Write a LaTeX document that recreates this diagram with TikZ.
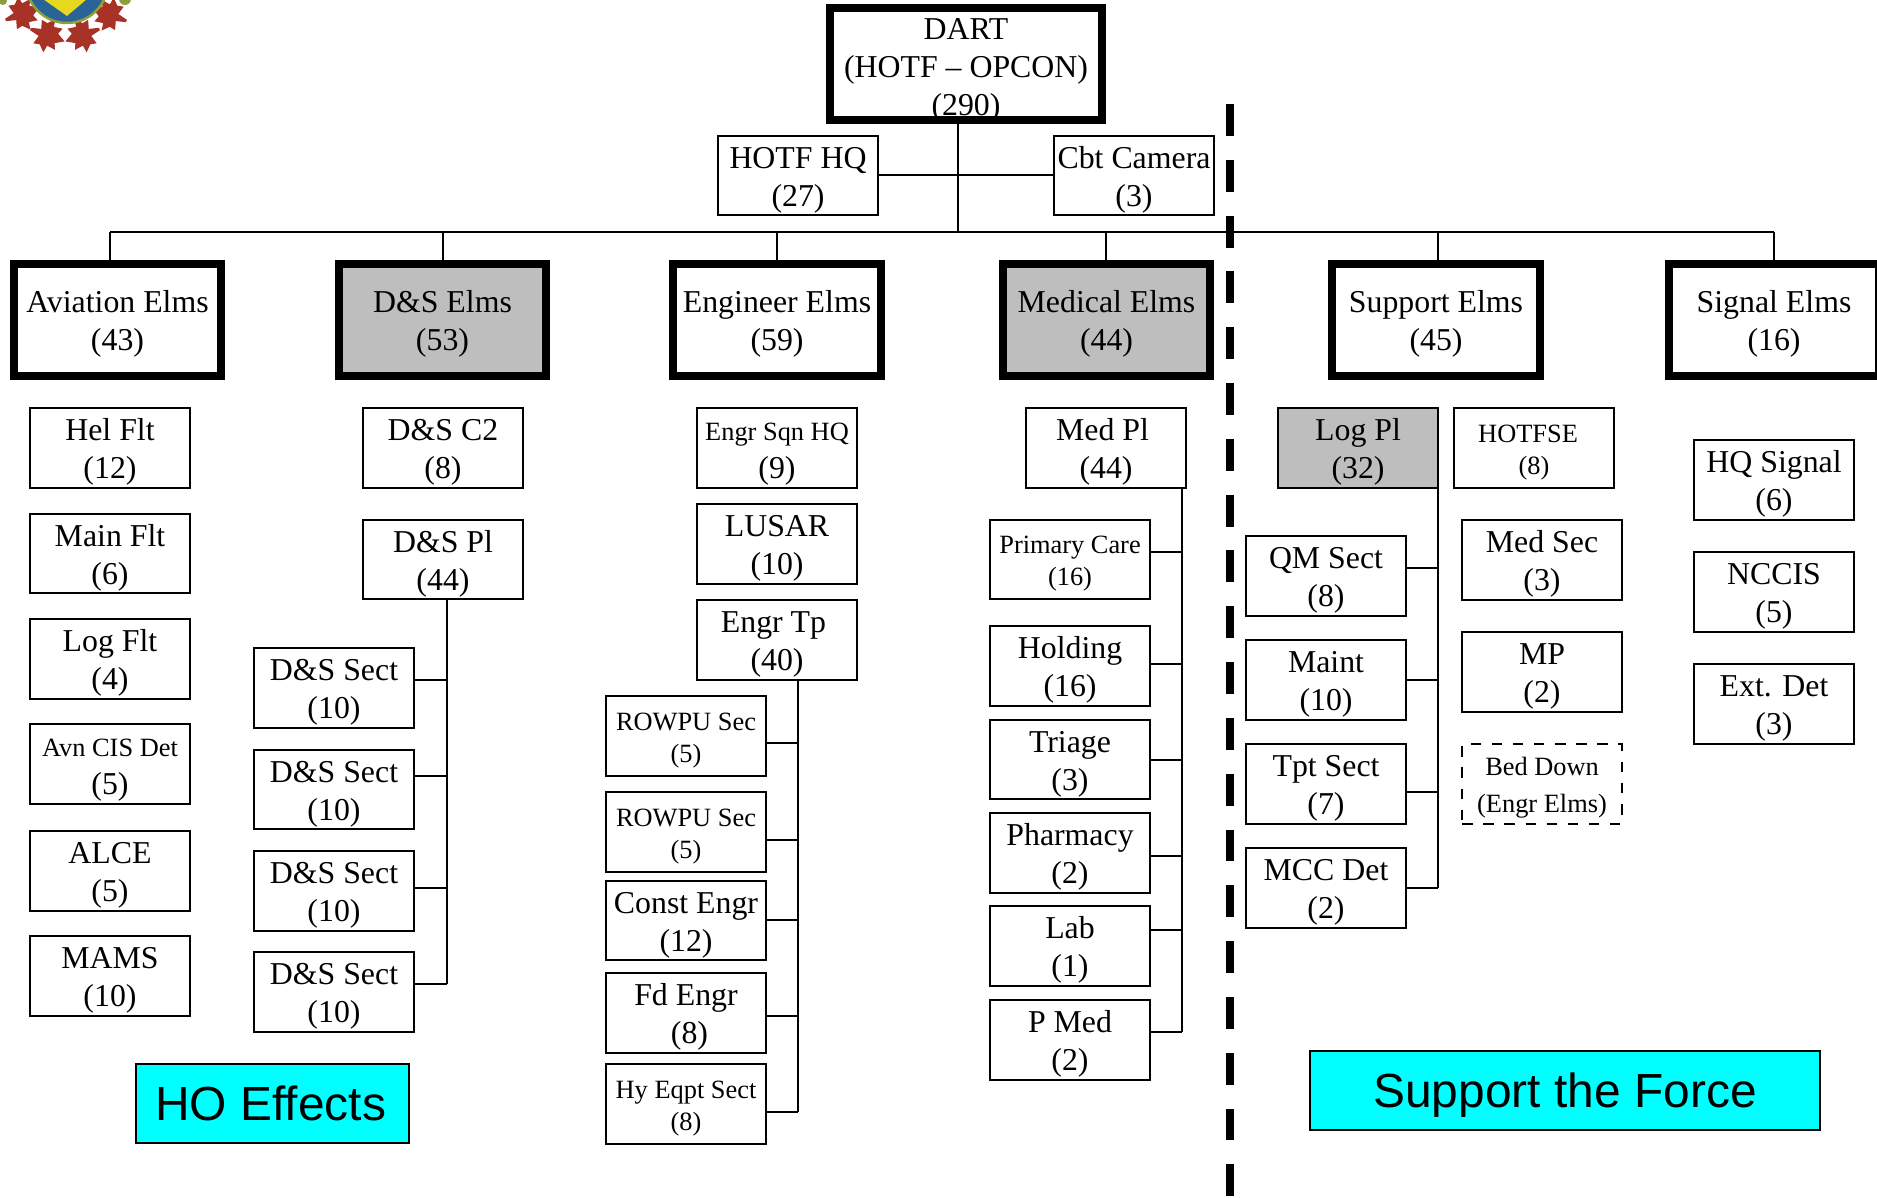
\documentclass[tikz,border=0pt]{standalone}
\usepackage{fontspec}
\setmainfont{Liberation Serif}
\newfontfamily\arialfont{Liberation Sans}
\newcommand{\boxfont}{\fontsize{9.05}{10.8}\selectfont}
\newcommand{\smallfont}{\fontsize{7.5}{9.1}\selectfont}
\definecolor{shade}{HTML}{BEBEBE}
\definecolor{aqua}{HTML}{00FFFF}
\definecolor{leafred}{HTML}{A93226}
\definecolor{badgeblue}{HTML}{2A6496}
\definecolor{badgerim}{HTML}{8E9E3A}
\definecolor{badgeyellow}{HTML}{E6D81E}
\tikzset{
  unit/.style={draw,line width=0.57pt,inner sep=0pt,align=center,font=\boxfont,
    minimum width=1.595cm,minimum height=0.795cm,text depth=0pt,text height=17.6pt},
  smallunit/.style={unit,font=\smallfont,text height=14.9pt},
  elms/.style={unit,line width=2.27pt,minimum width=2.07cm,minimum height=1.12cm},
  banner/.style={draw,line width=0.57pt,fill=aqua,inner sep=0pt,
    font=\arialfont\fontsize{13.62}{16}\selectfont},
  link/.style={line width=0.57pt},
  leaf/.style={fill=leafred}
}
\begin{document}
\begin{tikzpicture}[x=0.01cm,y=-0.01cm]
  \useasboundingbox (0,0) rectangle (1877,1198);

  % Badge in the corner
  \fill[badgerim] (125,-1) circle (6);
  \fill[badgerim] (3,1) circle (4);
  \fill[leaf,shift={(22,14)},rotate=-70,scale=1.25] plot coordinates {
    (0,-15) (4,-8) (9,-10) (8,-3) (14,-2) (9,3) (10,8) (3,6) (1,14)
    (-1,14) (-3,6) (-10,8) (-9,3) (-14,-2) (-8,-3) (-9,-10) (-4,-8)
  };
  \fill[leaf,shift={(110,15)},rotate=70,scale=1.25] plot coordinates {
    (0,-15) (4,-8) (9,-10) (8,-3) (14,-2) (9,3) (10,8) (3,6) (1,14)
    (-1,14) (-3,6) (-10,8) (-9,3) (-14,-2) (-8,-3) (-9,-10) (-4,-8)
  };
  \fill[leaf,shift={(47,35)},rotate=-110,scale=1.25] plot coordinates {
    (0,-15) (4,-8) (9,-10) (8,-3) (14,-2) (9,3) (10,8) (3,6) (1,14)
    (-1,14) (-3,6) (-10,8) (-9,3) (-14,-2) (-8,-3) (-9,-10) (-4,-8)
  };
  \fill[leaf,shift={(83,35)},rotate=110,scale=1.25] plot coordinates {
    (0,-15) (4,-8) (9,-10) (8,-3) (14,-2) (9,3) (10,8) (3,6) (1,14)
    (-1,14) (-3,6) (-10,8) (-9,3) (-14,-2) (-8,-3) (-9,-10) (-4,-8)
  };
  \filldraw[fill=badgeblue,draw=badgerim,line width=0.7pt] (67,-18) circle (41);
  \fill[badgeyellow] (43,-1) -- (87,-1) -- (67,16) -- cycle;

  % Top of the chart
  \node[unit,line width=2.27pt,minimum width=2.72cm,minimum height=1.12cm,text height=29.1pt] (dart) at (966,64)
    {DART\\(HOTF -- OPCON)\\(290)};
  \node[unit] (hotfhq) at (798,175.5) {HOTF HQ\\(27)};
  \node[unit] (cbtcamera) at (1134,175.5) {Cbt Camera\\(3)};

  % Element boxes
  \node[elms] (aviation) at (117.5,320) {Aviation Elms\\(43)};
  \node[elms,fill=shade] (dselms) at (442.5,320) {D\&S Elms\\(53)};
  \node[elms] (engineer) at (777,320) {Engineer Elms\\(59)};
  \node[elms,fill=shade] (medical) at (1106.5,320) {Medical Elms\\(44)};
  \node[elms] (support) at (1436,320) {Support Elms\\(45)};
  \node[elms,minimum width=2.1cm] (signal) at (1774,320) {Signal Elms\\(16)};

  % Bus under the top boxes
  \coordinate (dartdrop) at (958,232);
  \coordinate (avdrop) at (110,232);
  \coordinate (dsdrop) at (443,232);
  \coordinate (engdrop) at (777,232);
  \coordinate (meddrop) at (1106,232);
  \coordinate (supdrop) at (1438,232);
  \coordinate (sigdrop) at (1774,232);
  \draw[link] (avdrop) -- (sigdrop);
  \draw[link] (dartdrop |- dart.south) -- (dartdrop);
  \draw[link] (hotfhq.east) -- (cbtcamera.west);
  \draw[link] (avdrop) -- (avdrop |- aviation.north);
  \draw[link] (dsdrop) -- (dsdrop |- dselms.north);
  \draw[link] (engdrop) -- (engdrop |- engineer.north);
  \draw[link] (meddrop) -- (meddrop |- medical.north);
  \draw[link] (supdrop) -- (supdrop |- support.north);
  \draw[link] (sigdrop) -- (sigdrop |- signal.north);

  % Aviation column
  \node[unit] (helflt) at (110,448) {Hel Flt\\(12)};
  \node[unit] (mainflt) at (110,553.5) {Main Flt\\(6)};
  \node[unit] (logflt) at (110,659) {Log Flt\\(4)};
  \node[unit] (avncis) at (110,764) {{\smallfont Avn CIS Det}\\(5)};
  \node[unit] (alce) at (110,871) {ALCE\\(5)};
  \node[unit] (mams) at (110,976) {MAMS\\(10)};

  % D&S column
  \node[unit] (dscc) at (443,448) {D\&S C2\\(8)};
  \node[unit] (dspl) at (443,559.5) {D\&S Pl\\(44)};
  \node[unit] (dssecta) at (334,688) {D\&S Sect\\(10)};
  \node[unit] (dssectb) at (334,789.5) {D\&S Sect\\(10)};
  \node[unit] (dssectc) at (334,891) {D\&S Sect\\(10)};
  \node[unit] (dssectd) at (334,992) {D\&S Sect\\(10)};
  \coordinate (dsa) at (446.5,680);
  \coordinate (dsb) at (446.5,776);
  \coordinate (dsc) at (446.5,888);
  \coordinate (dsd) at (446.5,984);
  \draw[link] (dsa |- dspl.south) -- (dsd);
  \draw[link] (dsa) -- (dsa -| dssecta.east);
  \draw[link] (dsb) -- (dsb -| dssectb.east);
  \draw[link] (dsc) -- (dsc -| dssectc.east);
  \draw[link] (dsd) -- (dsd -| dssectd.east);

  % Engineer column
  \node[unit] (engrhq) at (777,448) {{\smallfont Engr Sqn HQ}\\(9)};
  \node[unit] (lusar) at (777,544) {LUSAR\\(10)};
  \node[unit] (engrtp) at (777,640) {Engr Tp\hspace*{2pt}\\(40)};
  \node[smallunit] (rowpua) at (686,736) {ROWPU Sec\\(5)};
  \node[smallunit] (rowpub) at (686,832) {ROWPU Sec\\(5)};
  \node[unit] (constengr) at (686,920.5) {Const Engr\\(12)};
  \node[unit] (fdengr) at (686,1013) {Fd Engr\\\hspace*{2pt}(8)};
  \node[smallunit] (hyeqpt) at (686,1104) {Hy Eqpt Sect\\(8)};
  \coordinate (enga) at (798,743);
  \coordinate (engb) at (798,840);
  \coordinate (engc) at (798,920);
  \coordinate (engd) at (798,1016);
  \coordinate (enge) at (798,1112);
  \draw[link] (enga |- engrtp.south) -- (enge);
  \draw[link] (enga) -- (enga -| rowpua.east);
  \draw[link] (engb) -- (engb -| rowpub.east);
  \draw[link] (engc) -- (engc -| constengr.east);
  \draw[link] (engd) -- (engd -| fdengr.east);
  \draw[link] (enge) -- (enge -| hyeqpt.east);

  % Medical column
  \node[unit] (medpl) at (1106,448) {Med Pl\hspace*{2pt}\\(44)};
  \node[smallunit] (primary) at (1070,559.5) {Primary Care\\(16)};
  \node[unit] (holding) at (1070,666) {Holding\\(16)};
  \node[unit] (triage) at (1070,759.5) {Triage\\(3)};
  \node[unit] (pharmacy) at (1070,853) {Pharmacy\\(2)};
  \node[unit] (lab) at (1070,946) {Lab\\(1)};
  \node[unit] (pmed) at (1070,1040) {P Med\\(2)};
  \coordinate (meda) at (1181.5,552);
  \coordinate (medb) at (1181.5,664);
  \coordinate (medc) at (1181.5,760);
  \coordinate (medd) at (1181.5,856);
  \coordinate (mede) at (1181.5,930);
  \coordinate (medf) at (1181.5,1032);
  \draw[link] (meda |- medpl.south) -- (medf);
  \draw[link] (meda) -- (meda -| primary.east);
  \draw[link] (medb) -- (medb -| holding.east);
  \draw[link] (medc) -- (medc -| triage.east);
  \draw[link] (medd) -- (medd -| pharmacy.east);
  \draw[link] (mede) -- (mede -| lab.east);
  \draw[link] (medf) -- (medf -| pmed.east);

  % Support column
  \node[unit,fill=shade] (logpl) at (1358,448) {Log Pl\\(32)};
  \node[smallunit] (hotfse) at (1534,448) {HOTFSE\hspace*{3.4pt}\\(8)};
  \node[unit] (qmsect) at (1326,576) {QM Sect\\(8)};
  \node[unit] (maint) at (1326,680) {Maint\\(10)};
  \node[unit] (tptsect) at (1326,784) {Tpt Sect\\(7)};
  \node[unit] (mccdet) at (1326,888) {MCC Det\\(2)};
  \node[unit] (medsec) at (1542,560) {Med Sec\\(3)};
  \node[unit] (mp) at (1542,672) {MP\\(2)};
  \node[smallunit,dashed,text height=16.2pt] (beddown) at (1542,784) {Bed Down\\[1.3pt](Engr Elms)};
  \coordinate (supa) at (1437.5,568);
  \coordinate (supb) at (1437.5,680);
  \coordinate (supc) at (1437.5,792);
  \coordinate (supd) at (1437.5,888);
  \draw[link] (supa |- logpl.south) -- (supd);
  \draw[link] (supa) -- (supa -| qmsect.east);
  \draw[link] (supb) -- (supb -| maint.east);
  \draw[link] (supc) -- (supc -| tptsect.east);
  \draw[link] (supd) -- (supd -| mccdet.east);

  % Signal column
  \node[unit] (hqsignal) at (1774,480) {HQ Signal\\(6)};
  \node[unit] (nccis) at (1774,592) {NCCIS\\(5)};
  \node[unit] (extdet) at (1774,704) {Ext. Det\\(3)};

  % Divider and captions
  \coordinate (divtop) at (1230,104);
  \coordinate (divbot) at (1230,1198);
  \draw[line width=2.27pt,dash pattern=on 9.07pt off 6.8pt] (divtop) -- (divbot);
  \node[banner,minimum width=2.725cm,minimum height=0.78cm,text depth=0pt] (hoeffects) at (272.5,1103.5) {HO Effects\hspace*{1pt}};
  \node[banner,minimum width=5.09cm,minimum height=0.78cm,text depth=0pt] (supportforce) at (1565,1090.5) {Support the Force};
\end{tikzpicture}
\end{document}
